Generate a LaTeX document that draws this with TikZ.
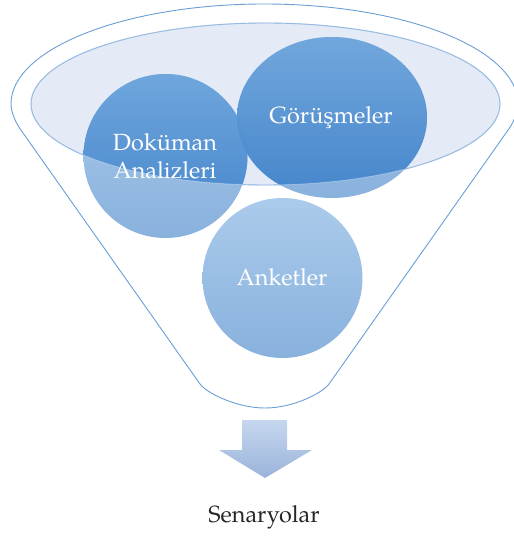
\documentclass[tikz,border=0pt]{standalone}
\usepackage{fontspec}
\setmainfont{TeX Gyre Pagella}
\definecolor{funline}{HTML}{6A9ED6}
\definecolor{ellfill}{HTML}{E4EBF6}
\definecolor{dkA}{HTML}{6FA6DC}
\definecolor{dkB}{HTML}{4283CB}
\definecolor{ltA}{HTML}{ABCBEB}
\definecolor{ltB}{HTML}{88B1DD}
\definecolor{arA}{HTML}{C6D7EF}
\definecolor{arB}{HTML}{9AB3D9}
\definecolor{txtdark}{HTML}{262626}
\begin{document}
\begin{tikzpicture}[x=1bp,y=-1bp,
  funnelline/.style={draw=funline,line width=0.9bp},
  lbl/.style={text=white,font=\fontsize{23.5}{28}\selectfont,align=center,inner sep=0pt},
  dkshade/.style={top color=dkA,bottom color=dkB},
  ltshade/.style={top color=ltA,bottom color=ltB},
]
\useasboundingbox (0,0) rectangle (514,538);
% outer funnel outline
\draw[funnelline] (200,384) -- (20.2,129)
  .. controls (16.5,123.7) and (11,113) .. (11,104)
  arc[start angle=180,end angle=360,x radius=253.5,y radius=100]
  .. controls (518,113) and (512.5,123.7) .. (508.8,129)
  -- (329,384)
  .. controls (323,392.5) and (294,408) .. (265,408)
  .. controls (236,408) and (206,392.5) .. (200,384) -- cycle;
% inner ellipse
\fill[ellfill] (265.5,104) ellipse[x radius=234.5,y radius=81];
\draw[funnelline] (265.5,104) ellipse[x radius=234.5,y radius=81];
% circles: light part
\shade[ltshade] (165.5,156) circle[radius=82];
\shade[ltshade] (332,117.5) ellipse[x radius=95,y radius=80.5];
\shade[ltshade] (282.5,278) circle[radius=80];
% circles: darker part inside the ellipse
\begin{scope}
  \clip (265.5,104) ellipse[x radius=234.5,y radius=81];
  \shade[dkshade] (165.5,156) circle[radius=82];
  \shade[dkshade,fill opacity=0.95] (332,117.5) ellipse[x radius=95,y radius=80.5];
\end{scope}
\draw[draw=white,opacity=0.3,line width=0.9bp] (265.5,104) ellipse[x radius=234.5,y radius=81];
% labels
\node[lbl] (dok) at (165,156) {Doküman\\Analizleri};
\node[lbl,anchor=base] (gor) at (331,124) {Görüşmeler};
\node[lbl,anchor=base] (ank) at (282,285) {Anketler};
% arrow
\shade[top color=arA,bottom color=arB] (242,420) -- (287,420) -- (287,450) -- (312,450)
  -- (265,478) -- (219,450) -- (242,450) -- cycle;
\node[lbl,text=txtdark,anchor=base] (sen) at (264,522) {Senaryolar};
\end{tikzpicture}
\end{document}
